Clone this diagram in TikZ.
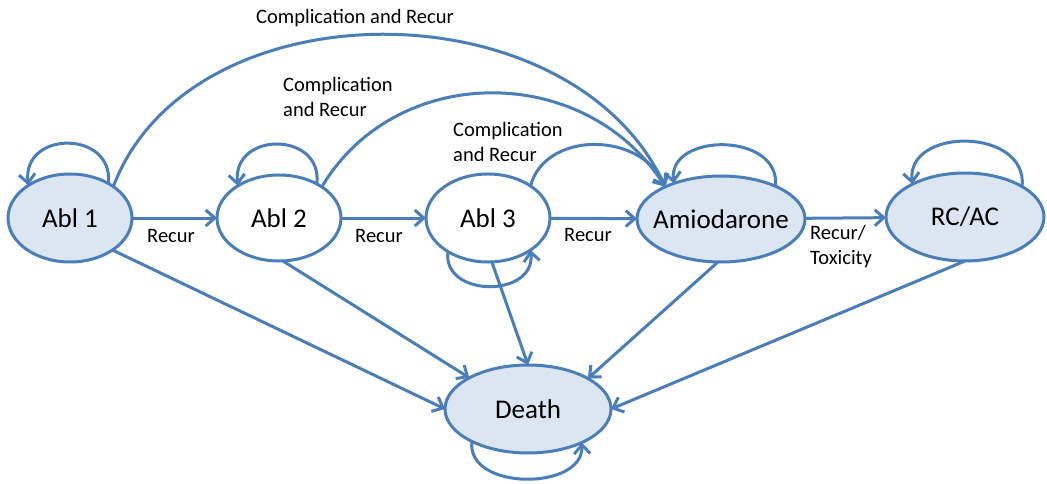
\documentclass[tikz,border=0pt]{standalone}
\usepackage{fontspec}
\setmainfont{Carlito}
\usetikzlibrary{shapes.geometric,arrows.meta}
\definecolor{lineblue}{HTML}{4A7EBB}
\definecolor{fillblue}{HTML}{DCE6F2}
\begin{document}
\begin{tikzpicture}[x=1pt,y=-1pt,
  state/.style={ellipse, draw=lineblue, line width=3pt, inner sep=0pt, outer sep=0pt, font=\fontsize{27}{31}\selectfont},
  filled/.style={state, fill=fillblue},
  plain/.style={state, fill=white},
  conn/.style={draw=lineblue, line width=3pt, -{Straight Barb[length=9pt,width=16pt]}},
  lbl/.style={font=\fontsize{20.5}{25}\selectfont, inner sep=0pt, align=left},
]
\useasboundingbox[fill=white] (0,0) rectangle (1047,484);

\node[filled, minimum width=124pt, minimum height=88pt] (abl1) at (70,218) {Abl 1};
\node[plain, minimum width=124pt, minimum height=86pt] (abl2) at (279,218) {Abl 2};
\node[plain, minimum width=124pt, minimum height=88pt] (abl3) at (488,218) {Abl 3};
\node[filled, minimum width=168pt, minimum height=86pt] (amio) at (721,219) {\makebox[0pt]{Amiodarone}};
\node[filled, minimum width=158pt, minimum height=88pt] (rcac) at (965,217) {RC/AC};
\node[filled, minimum width=166pt, minimum height=88pt] (death) at (528,409) {Death};

% horizontal transitions
\draw[conn] (abl1) -- (abl2);
\draw[conn] (abl2) -- (abl3);
\draw[conn] (abl3) -- (amio);
\draw[conn] (amio) -- (rcac);

% to death
\draw[conn] (abl1.-37) -- (death.west);
\draw[conn] (abl2.-85) -- (death.152);
\draw[conn] (abl3.-85) -- (death.north);
\draw[conn] (amio.-94) -- (death.27);
\draw[conn] (rcac.south) -- (death.east);

% complication arcs
\draw[conn] (abl1.36) .. controls (190,-16) and (570,-16) .. (amio.150);
\draw[conn] (abl2.36) .. controls (396,62) and (585,62) .. (amio.150);
\draw[conn] (abl3.37) .. controls (545,131) and (640,131) .. (amio.150);

% self loops
\draw[conn] (abl1.42) .. controls (114,130) and (22,130) .. (abl1.142);
\draw[conn] (abl2.42) .. controls (323,131) and (232,131) .. (abl2.142);
\draw[conn] (abl3.-140) .. controls (442,298) and (536,298) .. (abl3.-37);
\draw[conn] (amio.31) .. controls (781,132) and (668,132) .. (amio.143);
\draw[conn] (rcac.28) .. controls (1028,127) and (906,127) .. (rcac.148);
\draw[conn] (death.-150) .. controls (466,491) and (584,491) .. (death.-32);

% labels
\node[lbl] (ltop) at (355,18) {Complication and Recur};
\node[lbl, anchor=west] (l2) at (283,97) {Complication\\and Recur};
\node[lbl, anchor=west] (l3) at (453,142) {Complication\\and Recur};
\node[lbl] (r1) at (171,236) {Recur};
\node[lbl] (r2) at (379,236) {Recur};
\node[lbl] (r3) at (588,235) {Recur};
\node[lbl, anchor=west] (r4) at (810,247) {Recur/\\Toxicity};
\end{tikzpicture}
\end{document}
